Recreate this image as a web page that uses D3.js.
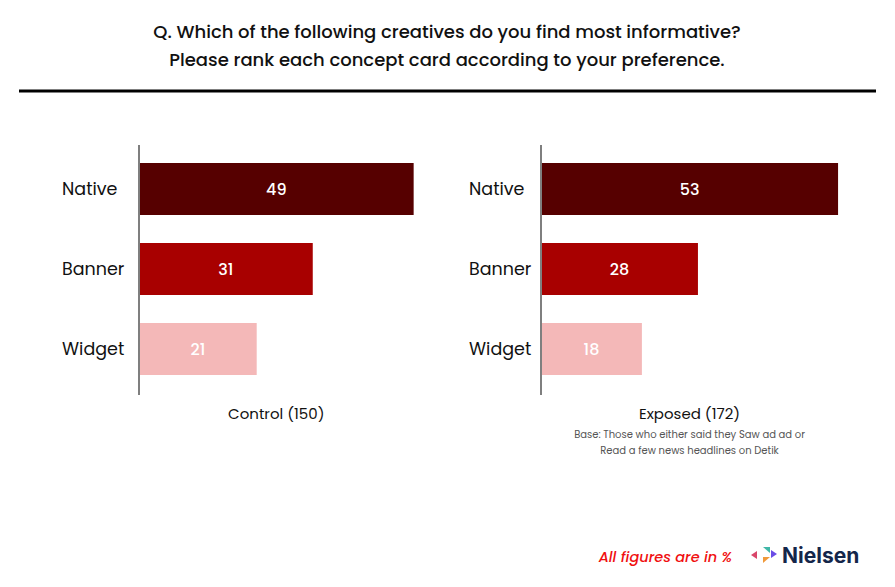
<!DOCTYPE html>
<html><head><meta charset="utf-8">
<script src="https://cdn.jsdelivr.net/npm/d3@7"></script>
<style>body{margin:0;background:#fff}svg{display:block}</style>
</head><body>
<script>
const categories = ["Native", "Banner", "Widget"];
const controlValues = [49, 31, 21];
const exposedValues = [53, 28, 18];
const barColors = ["#560000", "#a80000", "#f4b8b8"];
const panelTitles = ["Control (150)", "Exposed (172)"];
const titleLines = ["Q. Which of the following creatives do you find most informative?",
  "Please rank each concept card according to your preference."];
const baseNote = ["Base: Those who either said they Saw ad ad or", "Read a few news headlines on Detik"];

const W = 895, H = 587;
const font = "Poppins, Inter, 'Open Sans', sans-serif";
const svg = d3.select("body").append("svg").attr("width", W).attr("height", H)
  .style("font-family", font);

svg.selectAll("text.title").data(titleLines).join("text")
  .attr("x", 447).attr("y", (d, i) => 38 + i * 28)
  .attr("text-anchor", "middle").attr("font-size", 18).attr("font-weight", 500)
  .attr("fill", "#111").text(d => d);

svg.append("line").attr("x1", 19).attr("x2", 876).attr("y1", 91).attr("y2", 91)
  .attr("stroke", "#000").attr("stroke-width", 3);

const x = d3.scaleLinear().domain([0, 100]).range([0, 560.5]);
const yb = d3.scaleBand().domain(categories).range([135, 403]).paddingInner(0.35).paddingOuter(0.35);

function panel(axisX, labelX, values, caption) {
  const g = svg.append("g");
  g.selectAll("rect").data(values).join("rect")
    .attr("x", axisX).attr("y", (d, i) => yb(categories[i]))
    .attr("width", d => x(d)).attr("height", yb.bandwidth())
    .attr("fill", (d, i) => barColors[i]);
  g.selectAll("text.val").data(values).join("text").attr("class", "val")
    .attr("x", d => axisX + x(d) / 2).attr("y", (d, i) => yb(categories[i]) + yb.bandwidth() / 2 + 6)
    .attr("text-anchor", "middle").attr("font-size", 16).attr("font-weight", 500)
    .attr("fill", "#fff").text(d => d);
  g.selectAll("text.cat").data(categories).join("text").attr("class", "cat")
    .attr("x", labelX).attr("y", d => yb(d) + yb.bandwidth() / 2 + 6)
    .attr("font-size", 17.5).attr("font-weight", 400).attr("fill", "#111").text(d => d);
  g.append("line").attr("x1", axisX).attr("x2", axisX).attr("y1", 145).attr("y2", 395)
    .attr("stroke", "#7f7f7f").attr("stroke-width", 2);
  const cx = axisX + x(values[0]) / 2;
  g.append("text").attr("x", cx).attr("y", 419).attr("text-anchor", "middle")
    .attr("font-size", 15).attr("fill", "#111").text(caption);
  return cx;
}
panel(139, 62, controlValues, panelTitles[0]);
const cx2 = panel(541, 469, exposedValues, panelTitles[1]);
svg.selectAll("text.note").data(baseNote).join("text")
  .attr("x", cx2).attr("y", (d, i) => 438 + i * 16).attr("text-anchor", "middle")
  .attr("font-size", 10).attr("fill", "#555").text(d => d);

svg.append("text").attr("x", 732).attr("y", 562).attr("text-anchor", "end")
  .attr("font-size", 14.5).attr("font-style", "italic").attr("font-weight", 500).attr("fill", "#f01010")
  .text("All figures are in %");
const logo = svg.append("g");
logo.append("path").attr("d", "M751,555 L757,551 L757,559 Z").attr("fill", "#d9466a");
logo.append("path").attr("d", "M763,547 L770,547 L770,553 Z").attr("fill", "#3fb7a8");
logo.append("path").attr("d", "M763,557 L770,557 L763,563 Z").attr("fill", "#f0993a");
logo.append("path").attr("d", "M771,550 L777,554 L771,558 Z").attr("fill", "#6a4ce6");
logo.append("text").attr("x", 782).attr("y", 563).attr("font-size", 21).attr("font-weight", 700)
  .attr("fill", "#14264a").style("font-family", "Inter, sans-serif").text("Nielsen");
</script>
</body></html>
